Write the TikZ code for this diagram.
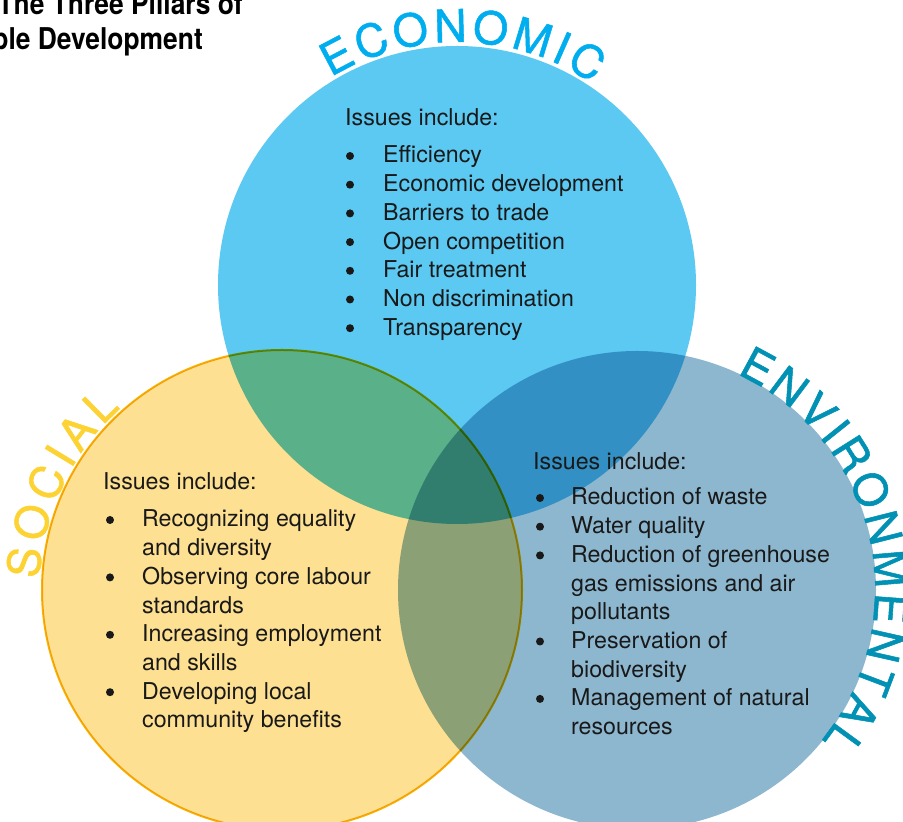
\documentclass[tikz,border=0pt]{standalone}
\usepackage{fontspec}
\setmainfont{TeX Gyre Heros}
\newfontfamily\arcfam[FakeBold=1.2]{TeX Gyre Heros}
\newfontfamily\titlefam[FakeStretch=0.88]{TeX Gyre Heros}
\definecolor{ecoFill}{RGB}{91,201,242}
\definecolor{socFill}{RGB}{253,224,145}
\definecolor{envFill}{RGB}{141,183,207}
\definecolor{socLine}{RGB}{248,180,0}
\definecolor{ecoText}{RGB}{0,174,239}
\definecolor{socText}{RGB}{253,211,52}
\definecolor{envText}{RGB}{0,145,180}
\definecolor{bodyText}{RGB}{25,25,25}
\newcommand\arcfont{\arcfam\fontsize{45}{45}\selectfont}
% #1 centre, #2 radius, #3 middle angle, #4 letter/offset list, #5 name prefix, #6 colour
\newcommand\arcword[6]{%
  \foreach \ch/\off [count=\k] in {#4}{%
    \pgfmathsetmacro\arcang{#3-\off/#2*180/pi}%
    \node[arcletter,text=#6,rotate=\arcang-90] (#5\k) at ([shift={(\arcang:#2)}]#1) {\ch};
  }%
}
\tikzset{
  pillar/.style={circle, inner sep=0pt, outer sep=0pt, minimum size=#1},
  arcletter/.style={font=\arcfont, inner sep=0pt, anchor=base},
  bodyline/.style={font=\fontsize{23.2}{28}\selectfont, text=bodyText, inner sep=0pt, anchor=base west},
  bul/.style={circle, fill=bodyText, inner sep=0pt, minimum size=8pt},
  titleline/.style={font=\titlefam\bfseries\fontsize{30}{35}\selectfont, text=black, inner sep=0pt, anchor=base east}
}
\begin{document}
\begin{tikzpicture}[x=1pt,y=1pt]
\useasboundingbox (0,0) rectangle (903,822);
\clip (0,0) rectangle (903,822);
\fill[white] (0,0) rectangle (903,822);
\begin{scope}[blend group=multiply]
  \node[pillar=480pt, fill=socFill, draw=socLine, line width=2pt] (soc) at (282,232) {};
  \node[pillar=478pt, fill=ecoFill] (eco) at (457,537) {};
  \node[pillar=478pt, fill=envFill] (env) at (637,232) {};
\end{scope}
% titles
\node[titleline] (title1) at (243,807) {The Three Pillars of};
\node[titleline] (title2) at (203,772) {Sustainable Development};
% curved labels
\arcword{eco.center}{243}{88.6}{E/-123.45,C/-87.99,O/-50.04,N/-12.09,O/25.86,M/66.31,I/95.51,C/122.21}{ecoL}{ecoText}
\arcword{soc.center}{243}{154.5}{S/-82.0,O/-43.69,C/-4.15,I/24.14,A/51.19,L/84.5}{socL}{socText}
\arcword{env.center}{238}{13}{E/-201.88,N/-166.77,V/-131.67,I/-106.55,R/-80.2,O/-42.6,N/-5.0,M/33.84,E/71.44,N/106.55,T/140.39,A/173.0,L/204.37}{envL}{envText}
% economic text
\node[bodyline] (ecoIss) at (345,696) {Issues include:};
\foreach \b/\t [count=\i] in {1/Efficiency,1/Economic development,1/Barriers to trade,1/Open competition,1/Fair treatment,1/Non discrimination,1/Transparency}{
  \pgfmathsetmacro\yy{659-(\i-1)*28.7}
  \node[bodyline] (ecoT\i) at (383,\yy) {\t};
  \ifnum\b=1 \node[bul] (ecoB\i) at (350,\yy+7) {};\fi
}
% social text
\node[bodyline] (socIss) at (103,332) {Issues include:};
\foreach \b/\t [count=\i] in {1/Recognizing equality,0/and diversity,1/Observing core labour,0/standards,1/Increasing employment,0/and skills,1/Developing local,0/community benefits}{
  \pgfmathsetmacro\yy{295-(\i-1)*28.7}
  \node[bodyline] (socT\i) at (142,\yy) {\t};
  \ifnum\b=1 \node[bul] (socB\i) at (110,\yy+7) {};\fi
}
% environmental text
\node[bodyline] (envIss) at (533,352) {Issues include:};
\foreach \b/\t [count=\i] in {1/Reduction of waste,1/Water quality,1/Reduction of greenhouse,0/gas emissions and air,0/pollutants,1/Preservation of,0/biodiversity,1/Management of natural,0/resources}{
  \pgfmathsetmacro\yy{317-(\i-1)*28.7}
  \node[bodyline] (envT\i) at (571,\yy) {\t};
  \ifnum\b=1 \node[bul] (envB\i) at (540,\yy+7) {};\fi
}
\end{tikzpicture}
\end{document}
